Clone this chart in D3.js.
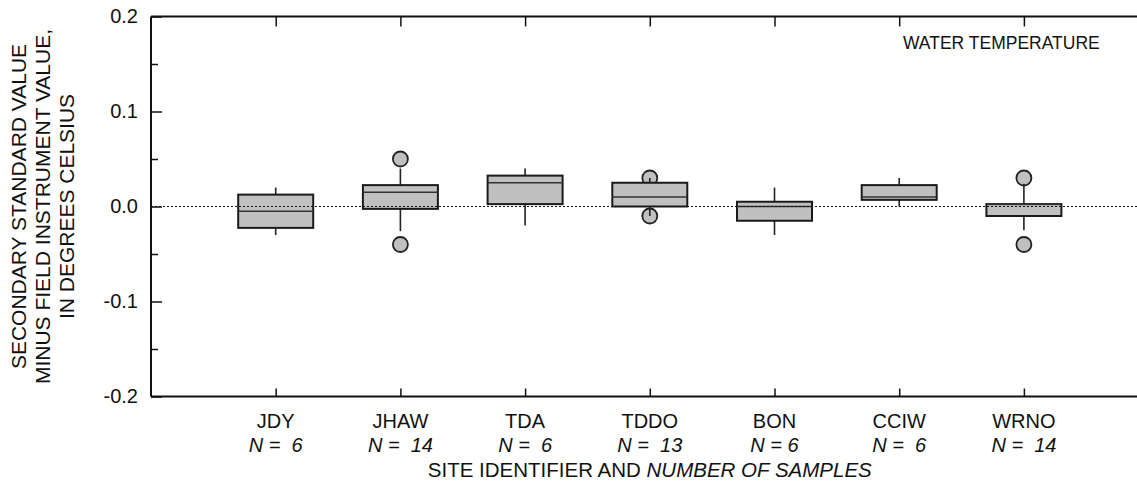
<!DOCTYPE html>
<html lang="en">
<head>
    <meta charset="UTF-8">
    <script src="https://d3js.org/d3.v7.min.js"></script>
    <title>Water temperature</title>
    <style>
        body { margin: 0; background: #fff; }
        text { font-family: Arial, "Liberation Sans", sans-serif; fill: #111; }
        .axis .domain { display: none; }
        .axis line { stroke: #111; stroke-width: 1.5; }
        .axis text { font-size: 20px; }
    </style>
</head>
<body>
    <div id="container"></div>
<script>
    // data
    var sites = ["JDY", "JHAW", "TDA", "TDDO", "BON", "CCIW", "WRNO"];
    var nLabels = ["N =  6", "N =  14", "N =  6", "N =  13", "N = 6", "N =  6", "N =  14"];
    var whiskerLow  = [-0.03, -0.026, -0.02, -0.01, -0.03, 0.0, -0.025];
    var q1          = [-0.0225, -0.0025, 0.0025, 0.0, -0.015, 0.007, -0.01];
    var median      = [-0.005, 0.015, 0.025, 0.01, 0.0, 0.01, 0.0025];
    var q3          = [0.0125, 0.0225, 0.0325, 0.025, 0.005, 0.0225, 0.0025];
    var whiskerHigh = [0.02, 0.04, 0.04, 0.03, 0.02, 0.03, 0.024];
    var outliers    = [[], [0.05, -0.04], [], [0.03, -0.01], [], [], [0.03, -0.04]];
    var yTicks = [-0.2, -0.1, 0.0, 0.1, 0.2];
    var yMinorTicks = [-0.15, -0.05, 0.05, 0.15];
    var yLabel = ["SECONDARY STANDARD VALUE", "MINUS FIELD INSTRUMENT VALUE,", "IN DEGREES CELSIUS"];

    var svg_width = 1137,
        svg_height = 481,
        margin = {top: 16.5, left: 151, bottom: 84.5},
        g_width = 997.6,
        g_height = svg_height - margin.top - margin.bottom;

    var svg = d3.select("#container").append("svg")
        .attr("width", svg_width)
        .attr("height", svg_height);

    var g = svg.append("g").attr("transform", `translate(${margin.left},${margin.top})`);

    var x = d3.scalePoint().domain(sites).range([0, g_width]).padding(1);
    var y = d3.scaleLinear().domain([-0.2, 0.2]).range([g_height, 0]);

    var boxes = sites.map(function(s, i) {
        return {site: s, lo: whiskerLow[i], q1: q1[i], med: median[i], q3: q3[i], hi: whiskerHigh[i], out: outliers[i]};
    });

    // frame lines (left, top, bottom) - right side is off the picture
    g.append("line").attr("x1", 0).attr("x2", 0).attr("y1", 0).attr("y2", g_height)
        .attr("stroke", "#111").attr("stroke-width", 2);
    g.append("line").attr("x1", 0).attr("x2", g_width).attr("y1", 0).attr("y2", 0)
        .attr("stroke", "#111").attr("stroke-width", 2);
    g.append("line").attr("x1", 0).attr("x2", g_width).attr("y1", g_height).attr("y2", g_height)
        .attr("stroke", "#111").attr("stroke-width", 2);

    // y axis, ticks pointing in
    g.append("g").attr("class", "axis")
        .call(d3.axisLeft(y).tickValues(yTicks).tickSizeInner(-11).tickSizeOuter(0).tickPadding(13)
            .tickFormat(function(d) { return d.toFixed(1); }));
    g.append("g").attr("class", "axis")
        .call(d3.axisLeft(y).tickValues(yMinorTicks).tickSizeInner(-7).tickSizeOuter(0).tickFormat(""));

    // x ticks, bottom and top, pointing in
    g.append("g").attr("class", "axis").attr("transform", `translate(0,${g_height})`)
        .call(d3.axisBottom(x).tickSizeInner(-8).tickSizeOuter(0).tickFormat(""));
    g.append("g").attr("class", "axis")
        .call(d3.axisTop(x).tickSizeInner(-10).tickSizeOuter(0).tickFormat(""));

    var bw = 75;
    var bx = g.selectAll(".box").data(boxes).enter().append("g")
        .attr("transform", function(d) { return `translate(${x(d.site)},0)`; });

    // outliers first, whiskers go over them
    bx.selectAll("circle").data(function(d) { return d.out; }).enter().append("circle")
        .attr("cy", function(d) { return y(d); }).attr("r", 7.5)
        .attr("fill", "#c0c0c0").attr("stroke", "#222").attr("stroke-width", 1.8);

    bx.append("line").attr("y1", function(d) { return y(d.q3); }).attr("y2", function(d) { return y(d.hi); })
        .attr("stroke", "#222").attr("stroke-width", 1.6);
    bx.append("line").attr("y1", function(d) { return y(d.q1); }).attr("y2", function(d) { return y(d.lo); })
        .attr("stroke", "#222").attr("stroke-width", 1.6);

    bx.append("rect")
        .attr("x", -bw / 2).attr("width", bw)
        .attr("y", function(d) { return y(d.q3); })
        .attr("height", function(d) { return y(d.q1) - y(d.q3); })
        .attr("fill", "#c0c0c0").attr("stroke", "#1a1a1a").attr("stroke-width", 2);

    bx.append("line").attr("x1", -bw / 2).attr("x2", bw / 2)
        .attr("y1", function(d) { return y(d.med); }).attr("y2", function(d) { return y(d.med); })
        .attr("stroke", "#333").attr("stroke-width", 1.6);

    // zero reference
    g.append("line").attr("x1", 0).attr("x2", g_width).attr("y1", y(0)).attr("y2", y(0))
        .attr("stroke", "#111").attr("stroke-width", 1).attr("stroke-dasharray", "2,2");

    // category labels
    g.selectAll(".site").data(sites).enter().append("text")
        .attr("x", function(d) { return x(d); }).attr("y", 428 - margin.top)
        .attr("text-anchor", "middle").style("font-size", "20px").text(function(d) { return d; });
    g.selectAll(".nlab").data(sites).enter().append("text")
        .attr("x", function(d) { return x(d); }).attr("y", 452 - margin.top)
        .attr("text-anchor", "middle").style("font-size", "20px").style("font-style", "italic")
        .style("white-space", "pre").text(function(d, i) { return nLabels[i]; });

    var xt = g.append("text").attr("x", g_width / 2).attr("y", 477 - margin.top)
        .attr("text-anchor", "middle").style("font-size", "20.5px");
    xt.append("tspan").text("SITE IDENTIFIER AND ");
    xt.append("tspan").style("font-style", "italic").text("NUMBER OF SAMPLES");

    // y title
    svg.append("text").attr("transform", `translate(0,${margin.top + g_height / 2}) rotate(-90)`)
        .attr("text-anchor", "middle").style("font-size", "21px")
        .selectAll("tspan").data(yLabel).enter().append("tspan")
        .attr("x", 0).attr("y", function(d, i) { return 26 + i * 24; })
        .text(function(d) { return d; });

    g.append("text").attr("x", 752).attr("y", 49 - margin.top)
        .style("font-size", "17.5px").text("WATER TEMPERATURE");
</script>
</body>
</html>
